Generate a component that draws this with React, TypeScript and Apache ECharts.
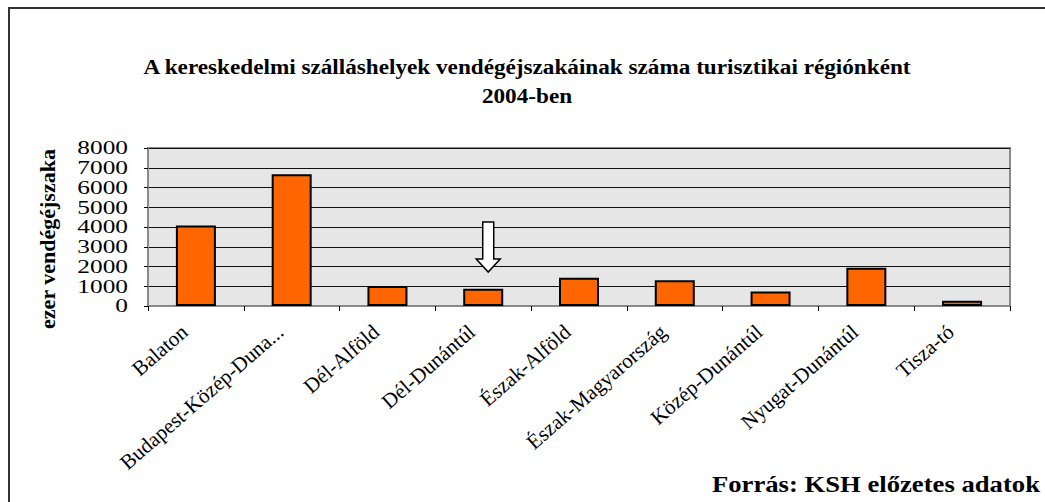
import React, { useEffect, useRef } from "react";
import * as echarts from "echarts";

const categories = [
  "Balaton",
  "Budapest-Közép-Duna...",
  "Dél-Alföld",
  "Dél-Dunántúl",
  "Észak-Alföld",
  "Észak-Magyarország",
  "Közép-Dunántúl",
  "Nyugat-Dunántúl",
  "Tisza-tó",
];
const nights = [4080, 6670, 1010, 870, 1430, 1310, 730, 1940, 270];
const yTickValues = [0, 1000, 2000, 3000, 4000, 5000, 6000, 7000, 8000];
const titleLines = [
  "A kereskedelmi szálláshelyek vendégéjszakáinak száma turisztikai régiónként",
  "2004-ben",
];
const yName = "ezer vendégéjszaka";
const sourceText = "Forrás: KSH előzetes adatok";
const arrowCategory = "Dél-Dunántúl";

const FONT = "'Liberation Serif', 'Times New Roman', serif";
const STRETCH = 1.16;

export default function App() {
  const ref = useRef<HTMLDivElement>(null);
  useEffect(() => {
    if (!ref.current) return;
    const chart = echarts.init(ref.current, null, { renderer: "svg" });
    const yMin = yTickValues[0];
    const yMax = yTickValues[yTickValues.length - 1];
    const yInterval = yTickValues[1] - yTickValues[0];
    chart.setOption({
      animation: false,
      backgroundColor: "#ffffff",
      textStyle: { fontFamily: FONT, color: "#000" },
      grid: {
        left: 148,
        top: 148,
        right: 35,
        bottom: 196,
        show: true,
        backgroundColor: "#e6e6e6",
        borderColor: "#8a8a8a",
        borderWidth: 2,
      },
      xAxis: {
        type: "category",
        data: categories,
        boundaryGap: true,
        axisLine: { show: true, lineStyle: { color: "#8a8a8a", width: 2 } },
        axisTick: { show: true, length: 5, lineStyle: { color: "#000" } },
        axisLabel: {
          rotate: 41,
          interval: 0,
          margin: 13,
          padding: [0, 15, 0, 0],
          fontFamily: FONT,
          fontSize: 21,
          color: "#000",
        },
        splitLine: { show: false },
      },
      yAxis: {
        type: "value",
        min: yMin,
        max: yMax,
        interval: yInterval,
        axisLine: { show: true, lineStyle: { color: "#8a8a8a", width: 2 } },
        axisTick: { show: true, length: 4, lineStyle: { color: "#000" } },
        axisLabel: { show: false },
        splitLine: { show: true, lineStyle: { color: "#111", width: 1 } },
      },
      series: [
        {
          type: "bar",
          data: nights,
          barWidth: 40,
          itemStyle: { color: "#ff6600", borderColor: "#000", borderWidth: 2 },
        },
      ],
    });

    // arrow annotation pointing at Dél-Dunántúl
    const cx = (chart.convertToPixel({ xAxisIndex: 0 }, arrowCategory) as number) + 5;
    const yTop = chart.convertToPixel({ yAxisIndex: 0 }, 4250) as number;
    const yHead = chart.convertToPixel({ yAxisIndex: 0 }, 2380) as number;
    const yTip = chart.convertToPixel({ yAxisIndex: 0 }, 1720) as number;
    const sw = 5.5;
    const hw = 12;

    const tickLabels = yTickValues.map((v) => ({
      type: "text",
      x: 128,
      y: chart.convertToPixel({ yAxisIndex: 0 }, v) as number,
      scaleX: 1.3,
      originX: 0,
      style: {
        text: String(v),
        fontFamily: FONT,
        fontSize: 19.5,
        fill: "#000",
        align: "right",
        verticalAlign: "middle",
      },
    }));

    chart.setOption({
      graphic: [
        {
          type: "rect",
          shape: { x: 9, y: 8, width: 1200, height: 700 },
          style: { fill: "none", stroke: "#333", lineWidth: 2 },
          silent: true,
        },
        ...titleLines.map((t, i) => ({
          type: "text",
          x: 527,
          y: 68 + i * 29,
          scaleX: STRETCH,
          style: {
            text: t,
            fontFamily: FONT,
            fontSize: 20,
            fontWeight: "bold",
            fill: "#000",
            align: "center",
            verticalAlign: "middle",
          },
        })),
        {
          type: "text",
          x: 47,
          y: 239,
          rotation: Math.PI / 2,
          style: {
            text: yName,
            fontFamily: FONT,
            fontSize: 22,
            fontWeight: "bold",
            fill: "#000",
            align: "center",
            verticalAlign: "middle",
          },
        },
        {
          type: "text",
          x: 1040,
          y: 484,
          scaleX: STRETCH,
          style: {
            text: sourceText,
            fontFamily: FONT,
            fontSize: 23,
            fontWeight: "bold",
            fill: "#000",
            align: "right",
            verticalAlign: "middle",
          },
        },
        ...tickLabels,
        {
          type: "polygon",
          shape: {
            points: [
              [cx - sw, yTop],
              [cx + sw, yTop],
              [cx + sw, yHead],
              [cx + hw, yHead],
              [cx, yTip],
              [cx - hw, yHead],
              [cx - sw, yHead],
            ],
          },
          style: { fill: "#ffffff", stroke: "#000", lineWidth: 1.5 },
          z: 100,
        },
      ],
    });

    return () => chart.dispose();
  }, []);
  return (
    <div
      ref={ref}
      style={{ position: "fixed", left: 0, top: 0, width: 1045, height: 502 }}
    />
  );
}
